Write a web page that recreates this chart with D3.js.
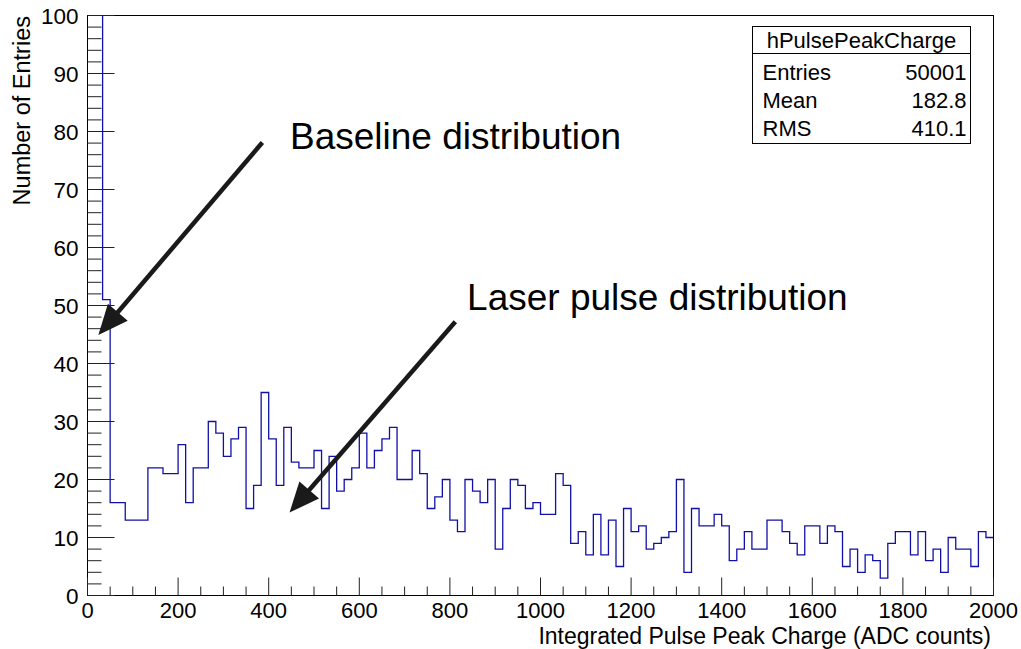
<!DOCTYPE html>
<html>
<head>
<meta charset="utf-8">
<script src="https://cdn.jsdelivr.net/npm/d3@7"></script>
<style>
  html, body { margin: 0; padding: 0; background: #fff; }
  svg { display: block; }
  text { font-family: "Liberation Sans", Arial, Helvetica, sans-serif; fill: #000; }
</style>
</head>
<body>
<svg id="chart" width="1021" height="649"></svg>
<script>
// ---- data ----
const binLow = 0, binHigh = 2000, nBins = 120;
// counts per bin (bin width 16.67 ADC counts); first two bins overflow the frame
const counts = [
  40000, 5000, 51, 16, 16, 13, 13, 13, 22, 22,
  21, 21, 26, 16, 22, 22, 30, 28, 24, 27,
  29, 15, 19, 35, 27, 19, 29, 23, 22, 22,
  25, 15, 24, 18, 20, 22, 28, 22, 25, 27,
  29, 20, 20, 25, 21, 15, 17, 20, 13, 11,
  20, 18, 16, 20, 8, 15, 20, 19, 15, 16,
  14, 14, 21, 19, 9, 11, 7, 14, 7, 13,
  5, 15, 11, 12, 8, 9, 10, 11, 20, 4,
  15, 12, 12, 14, 12, 6, 8, 11, 8, 8,
  13, 13, 11, 9, 7, 12, 12, 9, 12, 11,
  5, 8, 4, 7, 6, 3, 9, 11, 11, 7,
  11, 6, 8, 4, 10, 8, 8, 5, 11, 10
];
const xTicks = [0, 200, 400, 600, 800, 1000, 1200, 1400, 1600, 1800, 2000];
const yTicks = [0, 10, 20, 30, 40, 50, 60, 70, 80, 90, 100];
const xTitle = "Integrated Pulse Peak Charge (ADC counts)";
const yTitle = "Number of Entries";
const statsTitle = "hPulsePeakCharge";
const statsNames = ["Entries", "Mean", "RMS"];
const statsValues = ["50001", "182.8", "410.1"];
const annLabels = ["Baseline distribution", "Laser pulse distribution"];
const annTextPos = [[447, 76.9], [838, 49.3]];          // data coords (x, y)
const annArrowFrom = [[386, 78.1], [812, 47.2]];        // data coords
const annArrowTo = [[24, 44.9], [446, 14.3]];           // data coords

// ---- layout ----
const L = 87.5, R = 993.5, T = 15.5, B = 595.5;
const svg = d3.select("#chart");
const x = d3.scaleLinear().domain([0, 2000]).range([L, R]);
const y = d3.scaleLinear().domain([0, 100]).range([B, T]);

svg.append("defs").append("clipPath").attr("id", "clip")
  .append("rect").attr("x", L).attr("y", T).attr("width", R - L).attr("height", B - T);

// histogram
const bw = (binHigh - binLow) / nBins;
const pts = counts.map((c, i) => [binLow + i * bw, c]);
pts.push([binHigh, counts[counts.length - 1]]);
const line = d3.line()
  .x(d => x(d[0]))
  .y(d => y(Math.min(d[1], 102)))
  .curve(d3.curveStepAfter);
svg.append("path")
  .attr("d", line(pts))
  .attr("clip-path", "url(#clip)")
  .attr("fill", "none")
  .attr("stroke", "#1010a8")
  .attr("stroke-width", 1.3);

// frame
svg.append("rect").attr("x", L).attr("y", T).attr("width", R - L).attr("height", B - T)
  .attr("fill", "none").attr("stroke", "#000").attr("stroke-width", 1);

// x axis ticks (inside, upward)
const gx = svg.append("g").attr("transform", `translate(0,${B})`);
d3.range(0, 2001, 50).forEach(v => {
  const major = v % 200 === 0;
  gx.append("line").attr("x1", x(v)).attr("x2", x(v))
    .attr("y1", 0).attr("y2", major ? -18 : -9)
    .attr("stroke", "#222").attr("stroke-width", 1);
});
gx.selectAll("text.xl").data(xTicks).enter().append("text")
  .attr("class", "xl")
  .attr("x", d => x(d)).attr("y", 22.5)
  .attr("text-anchor", "middle")
  .style("font-size", "22px")
  .text(d => d);

// y axis ticks (inside, rightward)
const gy = svg.append("g").attr("transform", `translate(${L},0)`);
d3.range(0, 101, 2).forEach(v => {
  const major = v % 10 === 0;
  gy.append("line").attr("x1", 0).attr("x2", major ? 27 : 14)
    .attr("y1", y(v)).attr("y2", y(v))
    .attr("stroke", "#222").attr("stroke-width", 1);
});
gy.selectAll("text.yl").data(yTicks).enter().append("text")
  .attr("class", "yl")
  .attr("x", -9).attr("y", d => y(d)).attr("dy", "0.36em")
  .attr("text-anchor", "end")
  .style("font-size", "22.5px")
  .text(d => d);

// axis titles
svg.append("text")
  .attr("x", 991).attr("y", 643.5)
  .attr("text-anchor", "end")
  .style("font-size", "23px")
  .text(xTitle);
svg.append("text")
  .attr("transform", "translate(30,16) rotate(-90)")
  .attr("text-anchor", "end")
  .style("font-size", "23.5px")
  .text(yTitle);

// stats box
const sb = { x0: 752.5, x1: 970.5, y0: 26.5, y1: 143.5, sep: 53.5 };
svg.append("rect").attr("x", sb.x0).attr("y", sb.y0)
  .attr("width", sb.x1 - sb.x0).attr("height", sb.y1 - sb.y0)
  .attr("fill", "#fff").attr("stroke", "#000").attr("stroke-width", 1);
svg.append("line").attr("x1", sb.x0).attr("x2", sb.x1)
  .attr("y1", sb.sep).attr("y2", sb.sep).attr("stroke", "#000");
svg.append("text").attr("x", (sb.x0 + sb.x1) / 2).attr("y", 47.5)
  .attr("text-anchor", "middle").style("font-size", "22px").text(statsTitle);
statsNames.forEach((n, i) => {
  const by = 79.6 + i * 28.3;
  svg.append("text").attr("x", 762.5).attr("y", by)
    .style("font-size", "22px").text(n);
  svg.append("text").attr("x", 966.5).attr("y", by)
    .attr("text-anchor", "end").style("font-size", "22px").text(statsValues[i]);
});

// annotations
annLabels.forEach((t, i) => {
  svg.append("text")
    .attr("x", x(annTextPos[i][0])).attr("y", y(annTextPos[i][1]))
    .style("font-size", "37px")
    .text(t);
  const [fx, fy] = [x(annArrowFrom[i][0]), y(annArrowFrom[i][1])];
  const [tx, ty] = [x(annArrowTo[i][0]), y(annArrowTo[i][1])];
  const ang = Math.atan2(ty - fy, tx - fx);
  const headLen = 30, headHalf = 13;
  const bx = tx - headLen * Math.cos(ang), by = ty - headLen * Math.sin(ang);
  svg.append("line")
    .attr("x1", fx).attr("y1", fy).attr("x2", bx + 3 * Math.cos(ang)).attr("y2", by + 3 * Math.sin(ang))
    .attr("stroke", "#1a1a1a").attr("stroke-width", 4.5);
  const px = -Math.sin(ang), py = Math.cos(ang);
  svg.append("polygon")
    .attr("points", [
      [tx, ty],
      [bx + headHalf * px, by + headHalf * py],
      [bx - headHalf * px, by - headHalf * py]
    ].map(p => p.join(",")).join(" "))
    .attr("fill", "#1a1a1a");
});
</script>
</body>
</html>
